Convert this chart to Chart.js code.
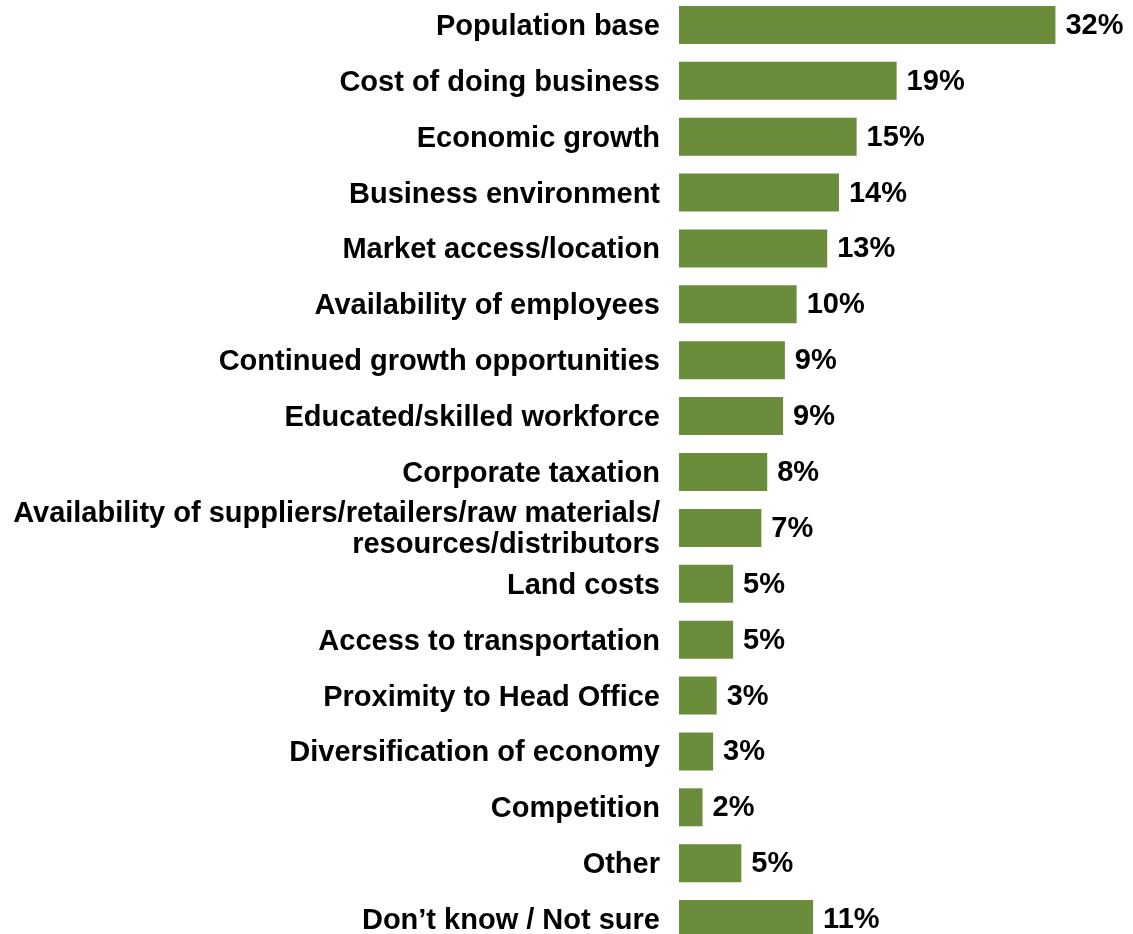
<!DOCTYPE html>
<html lang="en">
<head>
    <meta charset="UTF-8" />
    <title>Location factors</title>
    <script src="https://cdn.jsdelivr.net/npm/chart.js"></script>
    <style>
        html, body { margin: 0; padding: 0; background: #fff; overflow: hidden; }
        #wrap { position: absolute; left: 0; top: -3px; }
    </style>
</head>

<body>

<div id="wrap">
    <canvas id="factors_chart" width="1133" height="950"></canvas>
</div>

<script>
// categories (top to bottom)
const factors = [
    "Population base",
    "Cost of doing business",
    "Economic growth",
    "Business environment",
    "Market access/location",
    "Availability of employees",
    "Continued growth opportunities",
    "Educated/skilled workforce",
    "Corporate taxation",
    ["Availability of suppliers/retailers/raw materials/", "resources/distributors"],
    "Land costs",
    "Access to transportation",
    "Proximity to Head Office",
    "Diversification of economy",
    "Competition",
    "Other",
    "Don\u2019t know / Not sure"
];

// bar lengths (%)
const shares = [32, 18.5, 15.1, 13.6, 12.6, 10.0, 9.0, 8.85, 7.5, 7.0, 4.6, 4.6, 3.2, 2.9, 2.0, 5.3, 11.4];

// printed value labels (%)
const shareLabels = [32, 19, 15, 14, 13, 10, 9, 9, 8, 7, 5, 5, 3, 3, 2, 5, 11];

const labelFont = { family: "'Liberation Sans', Arial, sans-serif", size: 29, weight: "bold", lineHeight: 1.07 };

// draws "32%" etc. just past the end of each bar
const valueLabels = {
    id: "valueLabels",
    afterDatasetsDraw(chart) {
        const ctx = chart.ctx;
        const meta = chart.getDatasetMeta(0);
        ctx.save();
        ctx.font = "bold 29px 'Liberation Sans', Arial, sans-serif";
        ctx.fillStyle = "#000";
        ctx.textAlign = "left";
        ctx.textBaseline = "middle";
        meta.data.forEach((bar, i) => {
            ctx.fillText(shareLabels[i] + "%", bar.x + 10, bar.y + 1);
        });
        ctx.restore();
    }
};

let ctx = document.getElementById("factors_chart").getContext("2d");
new Chart(ctx, {
    type: "bar",
    data: {
        labels: factors,
        datasets: [{
            data: shares,
            backgroundColor: "#6a8c3b",
            borderWidth: 0,
            categoryPercentage: 1,
            barPercentage: 0.68
        }]
    },
    options: {
        indexAxis: "y",
        responsive: false,
        animation: false,
        devicePixelRatio: 1,
        layout: { padding: { left: 0, right: 7, top: 0, bottom: 0 } },
        plugins: {
            legend: { display: false },
            tooltip: { enabled: false }
        },
        scales: {
            x: {
                display: false,
                min: 0,
                max: 38
            },
            y: {
                grid: { display: false, drawTicks: false },
                border: { display: false },
                ticks: {
                    color: "#000",
                    font: labelFont,
                    padding: 19,
                    labelOffset: 2,
                    autoSkip: false
                },
                afterFit(scale) {
                    scale.width = 679;
                    // labels sit inside the category bands, no extra room needed
                    scale.paddingTop = 0;
                    scale.paddingBottom = 0;
                }
            }
        }
    },
    plugins: [valueLabels]
});
</script>

</body>
</html>
